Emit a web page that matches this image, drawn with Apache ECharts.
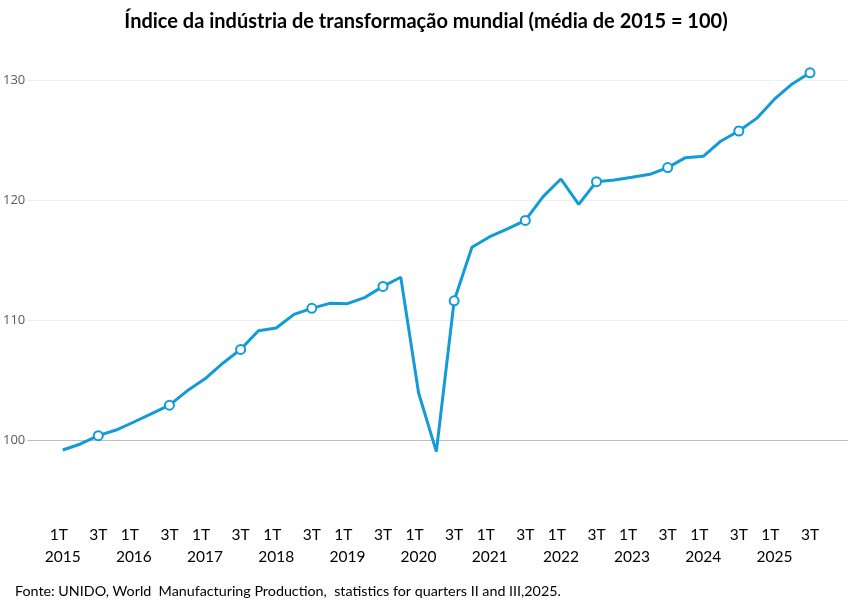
<!DOCTYPE html>
<html>
<head>
<meta charset="utf-8">
<script src="https://cdn.jsdelivr.net/npm/echarts@6/dist/echarts.min.js"></script>
<style>html,body{margin:0;padding:0;background:#fff}#c{width:852px;height:608px}</style>
</head>
<body>
<div id="c"></div>
<script>
var years = ['2015','2016','2017','2018','2019','2020','2021','2022','2023','2024','2025'];
var quarters = ['1T','2T','3T','4T'];
var values = [
  99.17, 99.67, 100.36, 100.83,
  101.5, 102.2, 102.9, 104.1,
  105.1, 106.4, 107.55, 109.1,
  109.33, 110.47, 110.97, 111.39,
  111.36, 111.89, 112.8, 113.56,
  103.94, 99.03, 111.6, 116.06,
  116.94, 117.6, 118.3, 120.28,
  121.75, 119.64, 121.53, 121.67,
  121.9, 122.14, 122.7, 123.53,
  123.64, 124.92, 125.75, 126.8,
  128.4, 129.67, 130.6
];
var yTicks = [100, 110, 120, 130];
var title = 'Índice da indústria de transformação mundial (média de 2015 = 100)';
var source = 'Fonte: UNIDO, World  Manufacturing Production,  statistics for quarters II and III,2025.';

var categories = [];
for (var i = 0; i < values.length; i++) {
  categories.push(quarters[i % 4] + ' ' + years[Math.floor(i / 4)]);
}

var blue = '#139bd8';
var T = 'rgba(0,0,0,0)';
var chart = echarts.init(document.getElementById('c'));
chart.setOption({
  animation: false,
  title: [{
    text: title, left: 'center', top: 7,
    textStyle: { fontFamily: 'Lato', fontWeight: 'bold', fontSize: 20, color: '#000' }
  }, {
    text: source, left: 10, top: 579,
    textStyle: { fontFamily: 'Lato', fontWeight: 'normal', fontSize: 14.3, color: '#000' }
  }],
  grid: [
    { left: 25, right: 4, top: 20, bottom: 108 },
    { left: 62.7, right: 42, top: 20, bottom: 108 }
  ],
  xAxis: [
    { gridIndex: 0, type: 'value', min: 0, max: 1, show: false },
    {
      gridIndex: 1, type: 'category', data: categories, boundaryGap: false,
      axisLine: { show: false }, axisTick: { show: false }, splitLine: { show: false },
      axisLabel: {
        interval: 1, margin: 24, lineHeight: 22,
        fontFamily: 'Lato', fontSize: 15.5, color: '#000',
        formatter: function (v) {
          var p = v.split(' ');
          return p[0] === '1T' ? '1T  \n' + p[1] : p[0];
        }
      }
    }
  ],
  yAxis: [
    {
      gridIndex: 0, type: 'value', min: 95, max: 135, interval: 5,
      axisLine: { show: false }, axisTick: { show: false },
      axisLabel: {
        margin: 2, fontFamily: 'Open Sans', fontSize: 13, color: '#595959',
        formatter: function (v) { return yTicks.indexOf(v) >= 0 ? String(v) : ''; }
      },
      splitLine: {
        lineStyle: {
          width: 1,
          color: [T, '#bfbfbf', T, '#efefef', T, '#efefef', T, '#efefef', T]
        }
      }
    },
    {
      gridIndex: 1, type: 'value', min: 95, max: 135, interval: 5, show: false, splitLine: { show: false }
    }
  ],
  series: [{
    type: 'line', xAxisIndex: 1, yAxisIndex: 1, data: values,
    showSymbol: true, showAllSymbol: true,
    symbol: function (val, params) { return params.dataIndex % 4 === 2 ? 'circle' : 'none'; },
    symbolSize: 9,
    lineStyle: { color: blue, width: 3 },
    itemStyle: { color: '#fff', borderColor: blue, borderWidth: 2 },
    z: 5
  }]
});
</script>
</body>
</html>
